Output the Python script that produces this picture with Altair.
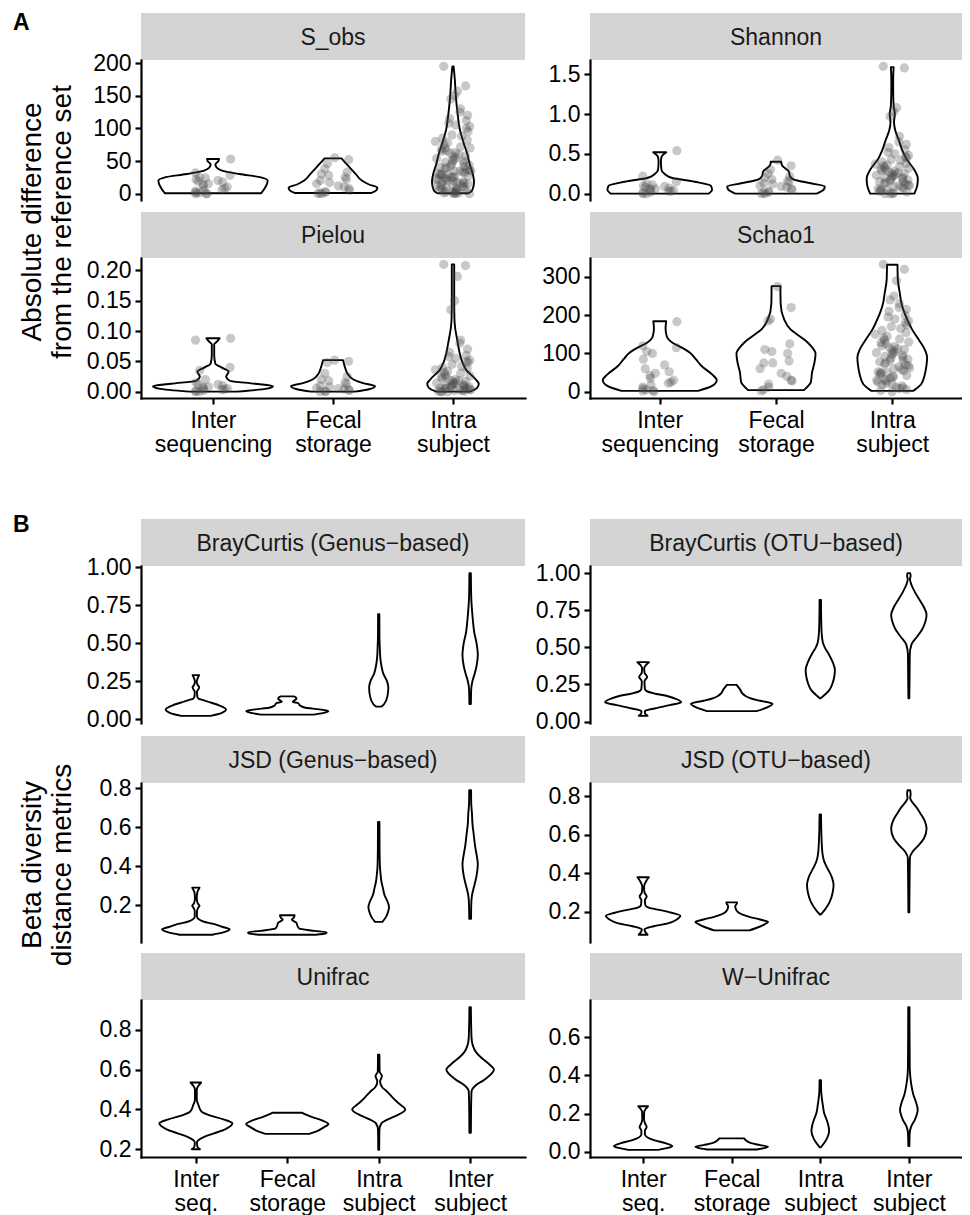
import altair as alt
import pandas as pd

FONT = "Liberation Sans"
STRIP_FILL = "#d4d4d4"

# ---------------- categories / labels ----------------
CATS_A = ["Inter sequencing", "Fecal storage", "Intra subject"]
CATS_B = ["Inter seq.", "Fecal storage", "Intra subject", "Inter subject"]
PANELS_A = ["S_obs", "Shannon", "Pielou", "Schao1"]
PANELS_B = ["BrayCurtis (Genus−based)", "BrayCurtis (OTU−based)",
            "JSD (Genus−based)", "JSD (OTU−based)", "Unifrac", "W−Unifrac"]
TITLE_A = ["Absolute difference", "from the reference set"]
TITLE_B = ["Beta diversity", "distance metrics"]
TAGS = ["A", "B"]

# ---------------- y tick values ----------------
TICKS_SOBS = [0, 50, 100, 150, 200]
TICKS_SHAN = [0.0, 0.5, 1.0, 1.5]
TICKS_PIEL = [0.0, 0.05, 0.10, 0.15, 0.20]
TICKS_SCHA = [0, 100, 200, 300]
TICKS_BC = [0.0, 0.25, 0.5, 0.75, 1.0]
TICKS_JSD = [0.2, 0.4, 0.6, 0.8]
TICKS_UNI = [0.2, 0.4, 0.6, 0.8]
TICKS_WUNI = [0.0, 0.2, 0.4, 0.6]

# ---------------- violin outlines (value, half-width in category units) ----------------
SOBS_Y = [[0.5, 8, 15, 20, 25, 30, 35, 40, 45, 50, 53],
          [1, 5, 9, 14, 20, 30, 40, 48, 54],
          [0.5, 5, 18, 30, 45, 60, 80, 100, 120, 140, 160, 175, 195]]
SOBS_W = [[0.40, 0.43, 0.45, 0.455, 0.40, 0.22, 0.08, 0.03, 0.02, 0.045, 0.05],
          [0.32, 0.36, 0.37, 0.30, 0.24, 0.19, 0.14, 0.10, 0.07],
          [0.13, 0.16, 0.175, 0.165, 0.14, 0.12, 0.085, 0.055, 0.04, 0.028, 0.02, 0.015, 0.005]]

SHAN_Y = [[0, 0.05, 0.1, 0.15, 0.2, 0.25, 0.3, 0.4, 0.46, 0.52],
          [0, 0.05, 0.09, 0.13, 0.18, 0.22, 0.28, 0.33, 0.36, 0.4],
          [0, 0.1, 0.19, 0.3, 0.44, 0.55, 0.68, 0.8, 0.9, 1.0, 1.1, 1.3, 1.45, 1.59]]
SHAN_W = [[0.42, 0.45, 0.44, 0.30, 0.10, 0.04, 0.015, 0.01, 0.015, 0.056],
          [0.35, 0.41, 0.42, 0.30, 0.15, 0.12, 0.11, 0.07, 0.05, 0.045],
          [0.19, 0.215, 0.22, 0.19, 0.12, 0.085, 0.055, 0.025, 0.015, 0.022, 0.012, 0.008, 0.008, 0.012]]

PIEL_Y = [[0, 0.005, 0.009, 0.013, 0.018, 0.025, 0.033, 0.04, 0.046, 0.06, 0.078, 0.082, 0.088],
          [0, 0.004, 0.009, 0.014, 0.02, 0.03, 0.04, 0.047, 0.052],
          [0, 0.006, 0.013, 0.02, 0.036, 0.05, 0.064, 0.08, 0.091, 0.105, 0.12, 0.15, 0.21]]
PIEL_W = [[0.20, 0.45, 0.50, 0.35, 0.14, 0.11, 0.13, 0.07, 0.02, 0.01, 0.01, 0.03, 0.055],
          [0.18, 0.30, 0.35, 0.25, 0.17, 0.12, 0.10, 0.09, 0.083],
          [0.14, 0.20, 0.215, 0.19, 0.11, 0.075, 0.055, 0.04, 0.03, 0.018, 0.012, 0.01, 0.01]]

SCHA_Y = [[2, 15, 30, 45, 67, 85, 102, 115, 128, 145, 165, 184],
          [4, 25, 50, 75, 100, 120, 137, 150, 163, 189, 230, 276],
          [2, 20, 45, 70, 90, 110, 135, 163, 185, 206, 230, 258, 293, 332]]
SCHA_W = [[0.33, 0.45, 0.49, 0.45, 0.36, 0.31, 0.26, 0.19, 0.11, 0.06, 0.05, 0.055],
          [0.24, 0.30, 0.31, 0.33, 0.34, 0.30, 0.24, 0.18, 0.125, 0.07, 0.04, 0.038],
          [0.18, 0.25, 0.28, 0.295, 0.30, 0.28, 0.23, 0.17, 0.135, 0.105, 0.08, 0.065, 0.048, 0.045]]

BCG_Y = [[0.022, 0.04, 0.065, 0.09, 0.11, 0.125, 0.135, 0.15, 0.18, 0.2, 0.21, 0.225, 0.245, 0.27, 0.29],
         [0.03, 0.045, 0.054, 0.065, 0.075, 0.09, 0.105, 0.115, 0.125, 0.135, 0.145, 0.15],
         [0.083, 0.1, 0.15, 0.21, 0.25, 0.3, 0.35, 0.4, 0.47, 0.55, 0.69],
         [0.1, 0.2, 0.25, 0.3, 0.35, 0.42, 0.5, 0.57, 0.65, 0.72, 0.8, 0.96]]
BCG_W = [[0.16, 0.28, 0.33, 0.26, 0.16, 0.08, 0.03, 0.015, 0.012, 0.03, 0.036, 0.02, 0.01, 0.02, 0.036],
         [0.29, 0.42, 0.45, 0.35, 0.20, 0.14, 0.12, 0.06, 0.08, 0.10, 0.09, 0.07],
         [0.03, 0.06, 0.095, 0.105, 0.09, 0.05, 0.03, 0.018, 0.012, 0.008, 0.007],
         [0.008, 0.012, 0.025, 0.05, 0.07, 0.084, 0.07, 0.045, 0.03, 0.02, 0.012, 0.008]]

BCO_Y = [[0.038, 0.055, 0.07, 0.09, 0.11, 0.13, 0.15, 0.17, 0.19, 0.205, 0.22, 0.27, 0.3, 0.33, 0.36, 0.38, 0.4],
         [0.07, 0.095, 0.12, 0.14, 0.155, 0.17, 0.19, 0.22, 0.235, 0.247],
         [0.157, 0.18, 0.21, 0.26, 0.31, 0.35, 0.4, 0.46, 0.5, 0.53, 0.6, 0.7, 0.82],
         [0.157, 0.3, 0.45, 0.52, 0.57, 0.62, 0.67, 0.72, 0.77, 0.82, 0.87, 0.92, 0.96, 0.98, 1.0]]
BCO_W = [[0.05, 0.02, 0.02, 0.15, 0.30, 0.43, 0.38, 0.28, 0.12, 0.04, 0.02, 0.015, 0.045, 0.015, 0.012, 0.03, 0.065],
         [0.28, 0.40, 0.46, 0.32, 0.22, 0.16, 0.12, 0.09, 0.07, 0.055],
         [0.005, 0.05, 0.10, 0.14, 0.16, 0.165, 0.14, 0.09, 0.05, 0.03, 0.015, 0.01, 0.008],
         [0.005, 0.008, 0.01, 0.03, 0.09, 0.15, 0.185, 0.20, 0.17, 0.12, 0.07, 0.03, 0.012, 0.02, 0.015]]

JSDG_Y = [[0.048, 0.06, 0.076, 0.09, 0.105, 0.115, 0.125, 0.14, 0.17, 0.19, 0.197, 0.21, 0.235, 0.265, 0.29],
          [0.048, 0.055, 0.06, 0.068, 0.08, 0.095, 0.11, 0.125, 0.135, 0.148],
          [0.114, 0.14, 0.17, 0.19, 0.22, 0.25, 0.29, 0.32, 0.36, 0.4, 0.5, 0.627],
          [0.13, 0.2, 0.25, 0.3, 0.35, 0.41, 0.46, 0.5, 0.56, 0.62, 0.67, 0.72, 0.79]]
JSDG_W = [[0.18, 0.30, 0.37, 0.28, 0.18, 0.09, 0.04, 0.012, 0.012, 0.03, 0.04, 0.02, 0.01, 0.015, 0.04],
          [0.31, 0.42, 0.43, 0.30, 0.13, 0.11, 0.10, 0.05, 0.07, 0.08],
          [0.04, 0.08, 0.105, 0.113, 0.095, 0.065, 0.045, 0.03, 0.02, 0.013, 0.009, 0.008],
          [0.01, 0.012, 0.02, 0.045, 0.07, 0.084, 0.07, 0.055, 0.04, 0.025, 0.02, 0.012, 0.01]]

JSDO_Y = [[0.081, 0.095, 0.11, 0.125, 0.14, 0.16, 0.179, 0.195, 0.21, 0.22, 0.235, 0.26, 0.279, 0.3, 0.33, 0.36, 0.379],
          [0.104, 0.12, 0.135, 0.147, 0.16, 0.175, 0.19, 0.21, 0.23, 0.24, 0.249],
          [0.186, 0.21, 0.25, 0.3, 0.34, 0.38, 0.43, 0.46, 0.5, 0.57, 0.65, 0.705],
          [0.197, 0.35, 0.48, 0.51, 0.54, 0.58, 0.63, 0.67, 0.71, 0.745, 0.77, 0.79, 0.81, 0.83]]
JSDO_W = [[0.05, 0.025, 0.015, 0.12, 0.28, 0.38, 0.42, 0.32, 0.18, 0.07, 0.025, 0.02, 0.04, 0.015, 0.01, 0.035, 0.065],
          [0.20, 0.30, 0.37, 0.41, 0.32, 0.19, 0.10, 0.05, 0.04, 0.055, 0.06],
          [0.005, 0.05, 0.105, 0.14, 0.15, 0.13, 0.075, 0.045, 0.025, 0.015, 0.01, 0.008],
          [0.005, 0.008, 0.012, 0.04, 0.10, 0.17, 0.20, 0.18, 0.13, 0.08, 0.035, 0.015, 0.02, 0.015]]

UNI_Y = [[0.2, 0.215, 0.235, 0.26, 0.28, 0.3, 0.33, 0.35, 0.37, 0.39, 0.42, 0.45, 0.5, 0.52, 0.535],
         [0.277, 0.29, 0.31, 0.327, 0.345, 0.36, 0.375, 0.383],
         [0.197, 0.3, 0.33, 0.35, 0.37, 0.4, 0.43, 0.46, 0.49, 0.51, 0.54, 0.567, 0.59, 0.675],
         [0.283, 0.4, 0.49, 0.52, 0.55, 0.6, 0.63, 0.66, 0.69, 0.72, 0.76, 0.913]]
UNI_W = [[0.045, 0.015, 0.012, 0.08, 0.20, 0.32, 0.40, 0.30, 0.15, 0.06, 0.03, 0.01, 0.01, 0.03, 0.058],
         [0.24, 0.32, 0.40, 0.45, 0.38, 0.28, 0.20, 0.165],
         [0.005, 0.008, 0.03, 0.10, 0.20, 0.29, 0.22, 0.15, 0.09, 0.04, 0.015, 0.035, 0.01, 0.008],
         [0.008, 0.01, 0.015, 0.06, 0.16, 0.26, 0.20, 0.12, 0.06, 0.03, 0.015, 0.008]]

WUNI_Y = [[0.01, 0.02, 0.03, 0.045, 0.06, 0.075, 0.09, 0.11, 0.13, 0.15, 0.17, 0.21, 0.225, 0.238],
          [0.012, 0.02, 0.026, 0.035, 0.045, 0.06, 0.07],
          [0.023, 0.05, 0.08, 0.11, 0.14, 0.17, 0.2, 0.24, 0.28, 0.32, 0.374],
          [0.03, 0.1, 0.13, 0.17, 0.22, 0.26, 0.3, 0.35, 0.4, 0.45, 0.6, 0.757]]
WUNI_W = [[0.17, 0.28, 0.33, 0.25, 0.13, 0.05, 0.02, 0.02, 0.04, 0.02, 0.01, 0.012, 0.03, 0.055],
          [0.28, 0.38, 0.41, 0.32, 0.22, 0.16, 0.14],
          [0.005, 0.05, 0.085, 0.10, 0.09, 0.07, 0.045, 0.03, 0.018, 0.01, 0.008],
          [0.006, 0.01, 0.025, 0.07, 0.10, 0.08, 0.05, 0.028, 0.015, 0.01, 0.008, 0.007]]

# ---------------- jittered observations (section A) ----------------
SOBS_PTS = [
    [53, 32, 28, 25, 24, 22, 20, 19, 18, 15, 14, 12, 10, 8, 6, 5, 4, 2, 1, 0, 0, 0],
    [55, 52, 46, 38, 33, 30, 28, 25, 22, 20, 17, 15, 12, 10, 8, 5, 3, 2, 1, 0, 0],
    [195, 165, 157, 150, 145, 130, 125, 120, 115, 112, 108, 105, 103, 100, 95, 90, 88, 85,
     82, 80, 78, 75, 72, 70, 70, 68, 66, 65, 63, 62, 60, 58, 57, 55, 54, 52, 50, 50, 48, 47,
     45, 44, 42, 41, 40, 40, 38, 37, 36, 35, 35, 34, 33, 32, 31, 30, 30, 29, 28, 27, 26, 25,
     25, 24, 23, 22, 21, 20, 20, 19, 18, 17, 16, 15, 15, 14, 13, 12, 11, 10, 10, 9, 8, 7, 6,
     5, 5, 4, 3, 2, 2, 1, 1, 0, 0, 0]]
SHAN_PTS = [
    [0.54, 0.22, 0.15, 0.12, 0.11, 0.10, 0.09, 0.08, 0.07, 0.06, 0.06, 0.05, 0.04, 0.03,
     0.03, 0.02, 0.01, 0.0, 0.0],
    [0.42, 0.35, 0.30, 0.25, 0.22, 0.20, 0.18, 0.16, 0.15, 0.13, 0.12, 0.10, 0.09, 0.08,
     0.06, 0.05, 0.03, 0.02, 0.01, 0.0, 0.0],
    [1.60, 1.58, 1.08, 1.03, 0.97, 0.72, 0.65, 0.62, 0.58, 0.55, 0.52, 0.50, 0.48, 0.46,
     0.45, 0.43, 0.42, 0.40, 0.38, 0.37, 0.36, 0.35, 0.34, 0.33, 0.32, 0.31, 0.30, 0.29,
     0.28, 0.27, 0.26, 0.25, 0.25, 0.24, 0.23, 0.22, 0.21, 0.20, 0.20, 0.19, 0.18, 0.17,
     0.16, 0.15, 0.15, 0.14, 0.13, 0.12, 0.11, 0.10, 0.10, 0.09, 0.08, 0.07, 0.06, 0.05,
     0.05, 0.04, 0.03, 0.02, 0.01, 0.0, 0.0, 0.0]]
PIEL_PTS = [
    [0.088, 0.085, 0.040, 0.035, 0.020, 0.015, 0.012, 0.012, 0.010, 0.008, 0.007, 0.006,
     0.005, 0.004, 0.003, 0.002, 0.001, 0.0, 0.0],
    [0.052, 0.050, 0.048, 0.030, 0.025, 0.020, 0.018, 0.015, 0.012, 0.010, 0.008, 0.006,
     0.005, 0.004, 0.003, 0.002, 0.001, 0.0, 0.0],
    [0.210, 0.208, 0.190, 0.150, 0.135, 0.085, 0.080, 0.070, 0.065, 0.060, 0.058, 0.055,
     0.052, 0.050, 0.048, 0.045, 0.042, 0.040, 0.038, 0.036, 0.034, 0.032, 0.030, 0.028,
     0.026, 0.025, 0.024, 0.022, 0.020, 0.019, 0.018, 0.017, 0.016, 0.015, 0.014, 0.013,
     0.012, 0.011, 0.010, 0.010, 0.009, 0.008, 0.008, 0.007, 0.006, 0.006, 0.005, 0.005,
     0.004, 0.003, 0.003, 0.002, 0.002, 0.001, 0.001, 0.0, 0.0, 0.0]]
SCHA_PTS = [
    [183, 120, 115, 105, 100, 85, 70, 60, 52, 48, 42, 35, 30, 25, 22, 18, 12, 8, 5, 3, 2, 0],
    [275, 220, 190, 185, 125, 110, 105, 100, 80, 75, 75, 60, 48, 40, 30, 28, 20, 12, 5, 2],
    [333, 320, 290, 250, 240, 230, 220, 215, 210, 200, 195, 190, 185, 180, 175, 170, 165,
     160, 155, 150, 145, 140, 138, 135, 130, 128, 125, 120, 118, 115, 112, 110, 108, 105,
     102, 100, 98, 95, 92, 90, 88, 85, 82, 80, 78, 75, 72, 70, 68, 65, 62, 60, 58, 55, 52,
     50, 50, 48, 45, 42, 40, 38, 35, 32, 30, 28, 25, 22, 20, 18, 15, 12, 10, 8, 5, 3, 0]]

# ---------------- helpers ----------------
AXIS_STYLE = dict(grid=False, domainColor="black", domainWidth=2.2, domainCap="square",
                  tickColor="black", tickWidth=2.2, tickSize=6, labelColor="black",
                  labelFont=FONT, labelFontSize=23, labelOverlap=False, labelFlush=False,
                  title=None)


def xlabel_expr(cats):
    expr = ""
    for i, c in enumerate(cats):
        a, b = c.split(" ", 1)
        arr = "['%s', '%s']" % (a, b)
        if i < len(cats) - 1:
            expr += "round(datum.value) == %d ? %s : " % (i + 1, arr)
        else:
            expr += arr
    return expr


def strip(name, w, h, gap, tag=None, tag_y=0):
    base = alt.Chart(pd.DataFrame({"name": [name]}))
    rect = base.mark_rect(color=STRIP_FILL).encode(
        x=alt.value(0), x2=alt.value(w), y=alt.value(gap), y2=alt.value(h))
    txt = base.mark_text(font=FONT, fontSize=23, color="#1a1a1a", align="center",
                         baseline="middle").encode(
        x=alt.value(w / 2), y=alt.value(gap + (h - gap) / 2 + 1), text="name:N")
    layers = [rect, txt]
    if tag:
        layers.append(base.mark_text(text=tag, font=FONT, fontSize=23, fontWeight="bold",
                                     align="left", baseline="middle", color="black").encode(
            x=alt.value(-128), y=alt.value(tag_y)))
    return alt.layer(*layers).properties(width=w, height=h)


def plot(cats, prof_y, prof_w, yticks, yfmt, w, h, show_x, pts=None, title=None, title_y=0):
    n = len(cats)
    vrows = []
    for ci, (ys, ws) in enumerate(zip(prof_y, prof_w), start=1):
        for y, hw in zip(ys, ws):
            vrows.append({"cat": ci, "v": y, "w": hw})
    vdf = pd.DataFrame(vrows)
    allv = list(vdf["v"])
    prows = []
    if pts:
        for ci, vals in enumerate(pts, start=1):
            for k, y in enumerate(vals):
                prows.append({"cat": ci, "v": y, "k": k})
        allv += [r["v"] for r in prows]
    mn, mx = min(allv), max(allv)
    r = mx - mn
    ys = alt.Scale(domain=[mn - 0.05 * r, mx + 0.05 * r], nice=False, zero=False)
    xs = alt.Scale(domain=[0.4, n + 0.6], nice=False, zero=False)
    yax = alt.Axis(values=yticks, format=yfmt, labelPadding=4, **AXIS_STYLE)
    if show_x:
        xax = alt.Axis(values=list(range(1, n + 1)), labelExpr=xlabel_expr(cats),
                       labelLineHeight=24, labelPadding=5, labelBaseline="top",
                       **AXIS_STYLE)
    else:
        xax = None

    violin = alt.Chart(vdf).transform_calculate(
        lo="datum.cat - datum.w", hi="datum.cat + datum.w"
    ).mark_area(orient="horizontal", interpolate="monotone", fill="white",
                fillOpacity=0, stroke="black", strokeWidth=1.9, strokeJoin="round").encode(
        y=alt.Y("v:Q", scale=ys, axis=yax),
        x=alt.X("lo:Q", scale=xs, axis=xax, stack=False),
        x2="hi:Q",
        detail="cat:N",
    )
    layers = [violin]
    if pts:
        points = alt.Chart(pd.DataFrame(prows)).transform_calculate(
            jx="datum.cat + 0.3 * (((abs(sin(datum.k * 12.9898 + datum.cat * 4.1414)) * 43758.5453) % 1) - 0.5)"
        ).mark_circle(size=85, color="#484848", opacity=0.3).encode(
            x=alt.X("jx:Q", scale=xs, axis=xax),
            y=alt.Y("v:Q", scale=ys, axis=yax),
        )
        layers.append(points)
    if title:
        layers.append(alt.Chart(pd.DataFrame({"k": [0]})).mark_text(
            text=title, angle=270, font=FONT, fontSize=28, align="center",
            baseline="middle", lineHeight=30, color="black").encode(
            x=alt.value(-108), y=alt.value(title_y)))
    return alt.layer(*layers).properties(width=w, height=h)


WL, WR = 384, 372

cells = [
    strip(PANELS_A[0], WL, 47, 0, tag=TAGS[0], tag_y=10),
    strip(PANELS_A[1], WR, 47, 0),
    plot(CATS_A, SOBS_Y, SOBS_W, TICKS_SOBS, "d", WL, 140, False, pts=SOBS_PTS,
         title=TITLE_A, title_y=162),
    plot(CATS_A, SHAN_Y, SHAN_W, TICKS_SHAN, ".1f", WR, 140, False, pts=SHAN_PTS),
    strip(PANELS_A[2], WL, 58, 12),
    strip(PANELS_A[3], WR, 58, 12),
    plot(CATS_A, PIEL_Y, PIEL_W, TICKS_PIEL, ".2f", WL, 140, True, pts=PIEL_PTS),
    plot(CATS_A, SCHA_Y, SCHA_W, TICKS_SCHA, "d", WR, 140, True, pts=SCHA_PTS),
    strip(PANELS_B[0], WL, 168, 121, tag=TAGS[1], tag_y=127),
    strip(PANELS_B[1], WR, 168, 121),
    plot(CATS_B, BCG_Y, BCG_W, TICKS_BC, ".2f", WL, 157, False),
    plot(CATS_B, BCO_Y, BCO_W, TICKS_BC, ".2f", WR, 157, False),
    strip(PANELS_B[2], WL, 60, 13),
    strip(PANELS_B[3], WR, 60, 13),
    plot(CATS_B, JSDG_Y, JSDG_W, TICKS_JSD, ".1f", WL, 159, False, title=TITLE_B, title_y=82),
    plot(CATS_B, JSDO_Y, JSDO_W, TICKS_JSD, ".1f", WR, 159, False),
    strip(PANELS_B[4], WL, 58, 11),
    strip(PANELS_B[5], WR, 58, 11),
    plot(CATS_B, UNI_Y, UNI_W, TICKS_UNI, ".1f", WL, 157, True),
    plot(CATS_B, WUNI_Y, WUNI_W, TICKS_WUNI, ".1f", WR, 157, True),
]

chart = alt.concat(
    *cells, columns=2, spacing={"row": 0, "column": 65}, bounds="flush", align="each"
).properties(
    padding={"left": 5, "top": 4, "right": 0, "bottom": 0}
).configure_view(stroke=None)

chart.save("out.html", embed_options={"renderer": "svg", "actions": False})
